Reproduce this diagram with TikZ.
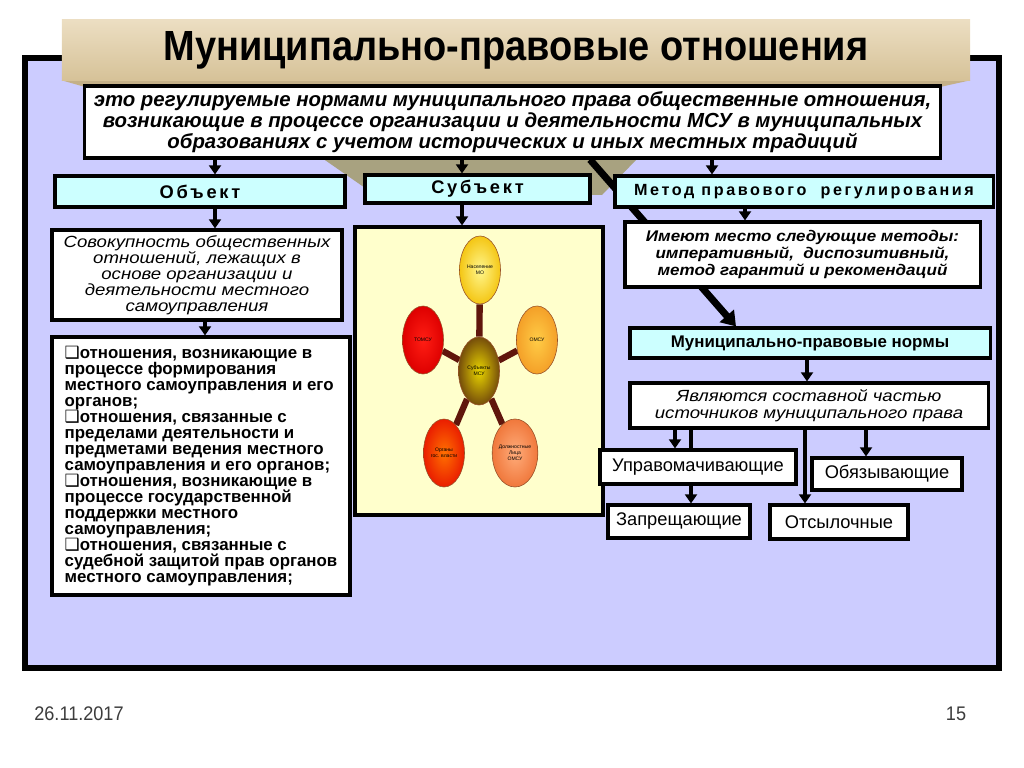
\documentclass[tikz,border=0pt]{standalone}
\usepackage{fontspec}
\setmainfont{Liberation Sans}
\newfontfamily\titlefont[FakeStretch=0.9]{Liberation Sans}
\newfontfamily\condfont[FakeStretch=1.0]{Liberation Sans}
\newfontfamily\widefont[FakeStretch=1.15]{Liberation Sans}
\newfontfamily\footfont[FakeStretch=0.92]{Liberation Sans}
\newfontfamily\symbfont{DejaVu Sans}
\usetikzlibrary{positioning,arrows.meta,shapes.geometric}
\definecolor{panellilac}{RGB}{204,204,255}
\definecolor{headcyan}{RGB}{204,255,255}
\definecolor{paleyellow}{RGB}{255,255,204}
\definecolor{bannertop}{RGB}{236,222,194}
\definecolor{bannerbot}{RGB}{214,194,152}
\definecolor{bannerside}{RGB}{196,176,136}
\definecolor{shadeolive}{RGB}{168,162,128}
\definecolor{spokebrown}{RGB}{96,22,12}
\definecolor{bubbleedge}{RGB}{150,80,40}
\definecolor{footgray}{RGB}{60,60,60}
\newcommand{\listmark}{{\symbfont\fontsize{12}{11}\selectfont ❑}}
\pgfdeclarelayer{bg}
\pgfdeclarelayer{links}
\pgfsetlayers{bg,links,main}

\begin{document}
\begin{tikzpicture}[x=0.025cm, y=-0.025cm,
    plainbox/.style={draw, line width=2.2pt, fill=white, inner sep=2pt, align=center},
    headbox/.style={plainbox, fill=headcyan},
    namebox/.style={plainbox, font=\fontsize{13}{14}\selectfont},
    arr/.style={line width=2.2pt, -{Triangle[width=8.5pt,length=6.5pt]}},
    bigarr/.style={line width=5pt, -{Triangle[width=13pt,length=10pt]}},
    bubble/.style={ellipse, draw=bubbleedge, line width=0.4pt, minimum width=1.025cm,
      minimum height=1.7cm, inner sep=0pt, align=center, font=\fontsize{3.6}{4.2}\selectfont},
    spoke/.style={line width=4.5pt, spokebrown}]
  \useasboundingbox (0,0) rectangle (1024,768);

  % title banner and definition
  \node[top color=bannertop, bottom color=bannerbot, minimum width=22.7cm, minimum height=1.5cm,
    font=\titlefont\fontsize{30}{32}\selectfont\bfseries] (title) at (516,50) {Муниципально-правовые отношения};
  \node[plainbox, minimum width=21.375cm, minimum height=1.8cm,
    font=\condfont\bfseries\itshape\fontsize{14.5}{13.4}\selectfont] (def) at (512.5,122)
    {это регулируемые нормами муниципального права общественные отношения,\\
     возникающие в процессе организации и деятельности МСУ в муниципальных\\
     образованиях с учетом исторических и иных местных традиций};

  % three headings
  \node[headbox, minimum width=7.25cm, minimum height=0.775cm,
    font=\addfontfeature{LetterSpace=15}\fontsize{13}{15}\selectfont\bfseries] (obj) at (200,191.5) {Объект};
  \node[headbox, minimum width=5.625cm, minimum height=0.7cm,
    font=\addfontfeature{LetterSpace=15}\fontsize{13}{15}\selectfont\bfseries] (subj) at (477.5,189) {Субъект};
  \node[headbox, minimum width=9.45cm, minimum height=0.775cm,
    font=\addfontfeature{LetterSpace=16}\fontsize{11.5}{13}\selectfont\bfseries] (meth) at (804,191.5) {Метод правового\ \ регулирования};

  % object column
  \node[plainbox, minimum width=7.25cm, minimum height=2.25cm,
    font=\widefont\itshape\fontsize{11.5}{11.4}\selectfont] (sov) at (197,275)
    {Совокупность общественных\\ отношений, лежащих в\\ основе организации и\\ деятельности местного\\ самоуправления};
  \node[plainbox, minimum width=7.45cm, minimum height=6.45cm, align=left,
    font=\bfseries\fontsize{12}{11.35}\selectfont] (list) at (201,466)
    {\listmark отношения, возникающие в\\ процессе формирования\\ местного самоуправления и его\\ органов;\\
     \listmark отношения, связанные с\\ пределами деятельности и\\ предметами ведения местного\\ самоуправления и его органов;\\
     \listmark отношения, возникающие в\\ процессе государственной\\ поддержки местного\\ самоуправления;\\
     \listmark отношения, связанные с\\ судебной защитой прав органов\\ местного самоуправления;};

  % frame, banner underside, shadow and subject panel
  \begin{pgfonlayer}{bg}
    \draw[line width=4.3pt, fill=panellilac] (25,58) rectangle (999,668);
    \fill[bannerside] (title.south west) -- (title.south east) -- (940,87) -- (85,87) -- cycle;
    \fill[shadeolive] (322,158) -- (638,158) -- (602,195) -- (368,190) -- cycle;
    \node[plainbox, fill=paleyellow, minimum width=6.2cm, minimum height=7.2cm] (subjpanel) at (479,371) {};
  \end{pgfonlayer}

  % subject column
  \node[bubble, shading=radial, inner color={rgb,255:red,255;green,246;blue,140}, outer color={rgb,255:red,244;green,198;blue,20}] (nas) at (480,270) {Население\\МО};
  \node[bubble, shading=radial, inner color={rgb,255:red,255;green,30;blue,20}, outer color={rgb,255:red,222;green,0;blue,0}] (tomsu) at (423,340) {ТОМСУ};
  \node[bubble, shading=radial, inner color={rgb,255:red,255;green,204;blue,70}, outer color={rgb,255:red,244;green,160;blue,40}] (omsu) at (537,340) {ОМСУ};
  \node[bubble, shading=radial, inner color={rgb,255:red,232;green,212;blue,0}, outer color={rgb,255:red,118;green,78;blue,10}] (core) at (479,371) {Субъекты\\МСУ};
  \node[bubble, shading=radial, inner color={rgb,255:red,255;green,112;blue,0}, outer color={rgb,255:red,234;green,30;blue,0}] (organ) at (444,453) {Органы\\гос. власти};
  \node[bubble, shading=radial, inner color={rgb,255:red,255;green,172;blue,122}, outer color={rgb,255:red,240;green,120;blue,60}] (dolzh) at (515,453) {Должностные\\Лица\\ОМСУ};

  % method column
  \node[plainbox, minimum width=8.875cm, minimum height=1.625cm,
    font=\condfont\addfontfeature{FakeStretch=1.1}\bfseries\itshape\fontsize{11}{12}\selectfont] (imeyut) at (802.5,254.5)
    {Имеют место следующие методы:\\ императивный,\ \ диспозитивный,\\ метод гарантий и рекомендаций};
  \node[headbox, minimum width=9cm, minimum height=0.75cm,
    font=\fontsize{12}{14}\selectfont\bfseries] (norms) at (810,343) {Муниципально-правовые нормы};
  \node[plainbox, minimum width=8.95cm, minimum height=1.125cm,
    font=\widefont\itshape\fontsize{11.5}{12}\selectfont] (yavl) at (809,405.5)
    {Являются составной частью\\ источников муниципального права};
  \node[namebox, minimum width=4.9cm, minimum height=0.85cm] (uprav) at (698,467) {Управомачивающие};
  \node[namebox, minimum width=3.75cm, minimum height=0.8cm] (obyaz) at (887,474) {Обязывающие};
  \node[namebox, minimum width=3.55cm, minimum height=0.825cm] (zapr) at (679,521.5) {Запрещающие};
  \node[namebox, minimum width=3.45cm, minimum height=0.85cm] (otsyl) at (839,522) {Отсылочные};

  % footer
  \node[font=\footfont\fontsize{14}{16}\selectfont, text=footgray] (date) at (79,714) {26.11.2017};
  \node[font=\footfont\fontsize{14}{16}\selectfont, text=footgray] (page) at (956,714) {15};

  % connectors
  \begin{pgfonlayer}{links}
    \draw[arr] (def.south -| 215,0) -- (obj.north -| 215,0);
    \draw[arr] (def.south -| 462,0) -- (subj.north -| 462,0);
    \draw[arr] (def.south -| 712,0) -- (meth.north -| 712,0);
    \draw[bigarr] (def.south -| 590,0) -- (norms.north -| 736,0);
    \draw[arr] (obj.south -| 215,0) -- (sov.north -| 215,0);
    \draw[arr] (sov.south -| 205,0) -- (list.north -| 205,0);
    \draw[arr] (subj.south -| 462,0) -- (subjpanel.north -| 462,0);
    \draw[arr] (meth.south -| 745,0) -- (imeyut.north -| 745,0);
    \draw[arr] (norms.south -| 807,0) -- (yavl.north -| 807,0);
    \draw[arr] (yavl.south -| 675,0) -- (uprav.north -| 675,0);
    \draw[arr] (yavl.south -| 691,0) -- (zapr.north -| 691,0);
    \draw[arr] (yavl.south -| 805,0) -- (otsyl.north -| 805,0);
    \draw[arr] (yavl.south -| 866,0) -- (obyaz.north -| 866,0);
    \foreach \b in {nas,tomsu,omsu,organ,dolzh}
      \draw[spoke] (core) -- (\b);
  \end{pgfonlayer}
\end{tikzpicture}
\end{document}
